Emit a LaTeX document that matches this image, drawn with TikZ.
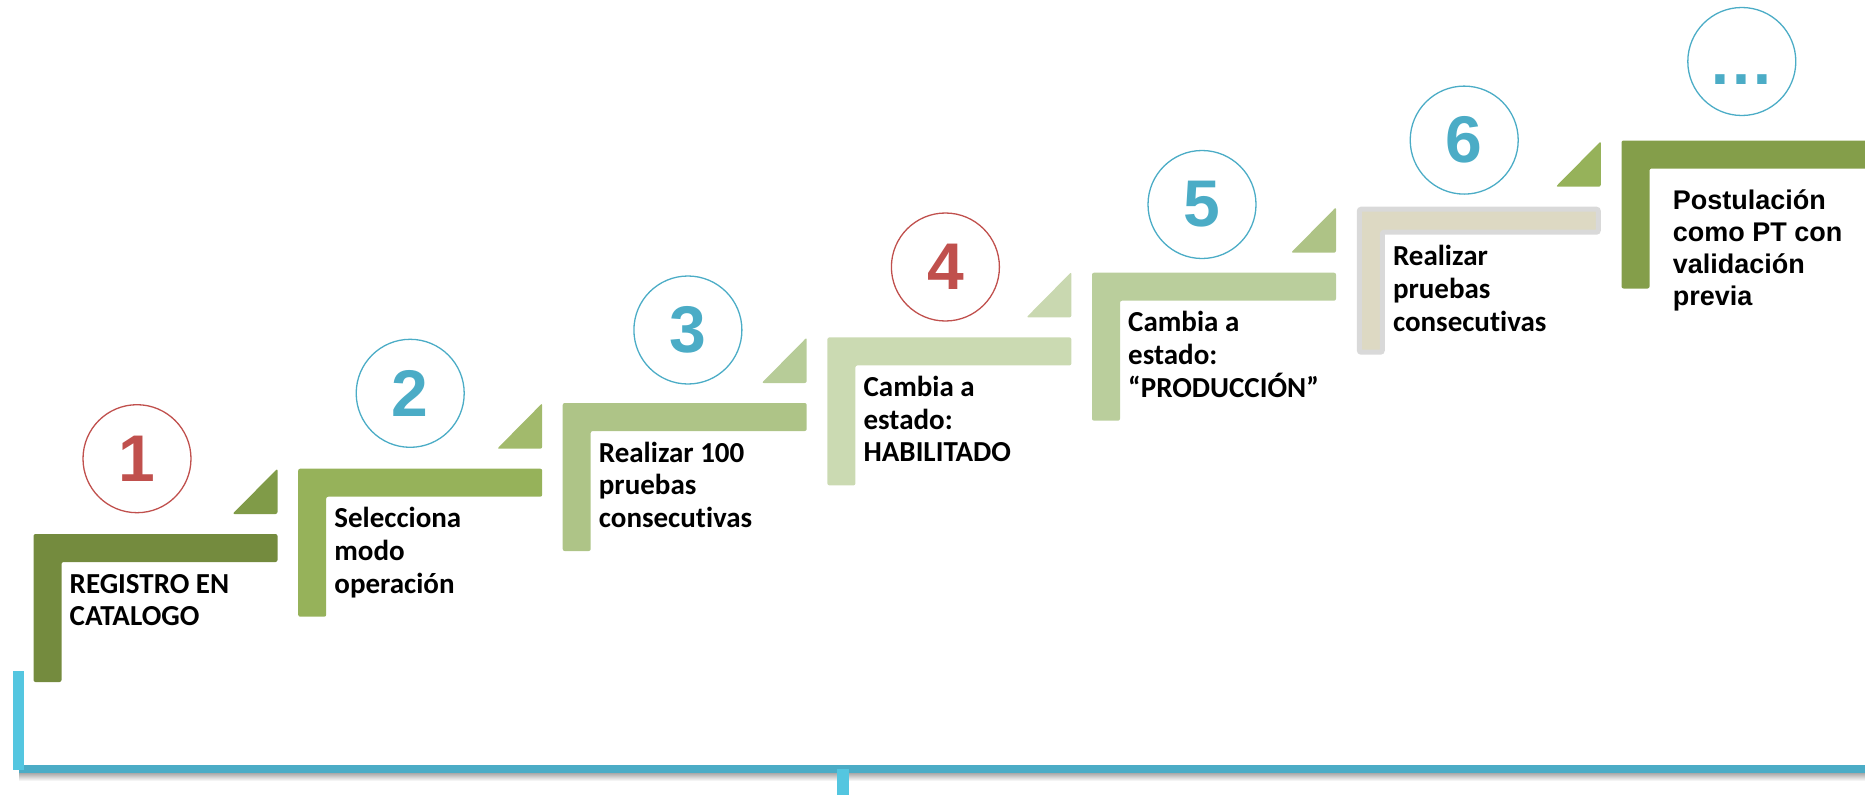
\documentclass[tikz,border=0pt]{standalone}
\usepackage{fontspec}
\setmainfont[Ligatures=NoCommon]{Carlito}
\newfontfamily\arialfont{Liberation Sans}
\definecolor{stepone}{RGB}{116,139,62}
\definecolor{steptwo}{RGB}{150,178,90}
\definecolor{stepthree}{RGB}{174,196,135}
\definecolor{stepfour}{RGB}{203,218,178}
\definecolor{stepfive}{RGB}{186,206,156}
\definecolor{stepsix}{RGB}{221,217,195}
\definecolor{stepseven}{RGB}{132,158,74}
\definecolor{trione}{RGB}{128,155,72}
\definecolor{tritwo}{RGB}{162,186,108}
\definecolor{trithree}{RGB}{183,204,152}
\definecolor{trifour}{RGB}{201,216,176}
\definecolor{trifive}{RGB}{174,195,134}
\definecolor{trisix}{RGB}{150,178,90}
\definecolor{edgegray}{RGB}{217,217,217}
\definecolor{numred}{RGB}{192,80,77}
\definecolor{numblue}{RGB}{75,172,198}
\definecolor{axiscyan}{RGB}{84,198,224}

\begin{document}
\begin{tikzpicture}[x=1pt,y=-1pt,
  numcirc/.style={circle,draw,line width=1.3pt,minimum size=108pt,inner sep=0pt,
    font=\arialfont\bfseries\fontsize{66}{66}\selectfont},
  steptext/.style={anchor=base west,align=left,inner sep=0pt,
    font=\bfseries\fontsize{29}{32.7}\selectfont}]
\useasboundingbox (0,0) rectangle (1865,795);
% escalones
\fill[stepone,rounded corners=2pt] (33.5,534) -- (277.5,534) -- (277.5,562) -- (61.5,562) -- (61.5,682) -- (33.5,682) -- cycle;
\fill[steptwo,rounded corners=2pt] (298.2,468.7) -- (542.2,468.7) -- (542.2,496.7) -- (326.2,496.7) -- (326.2,616.7) -- (298.2,616.7) -- cycle;
\fill[stepthree,rounded corners=2pt] (562.7,403) -- (806.7,403) -- (806.7,431) -- (590.7,431) -- (590.7,551) -- (562.7,551) -- cycle;
\fill[stepfour,rounded corners=2pt] (827.4,337.4) -- (1071.4,337.4) -- (1071.4,365.4) -- (855.4,365.4) -- (855.4,485.4) -- (827.4,485.4) -- cycle;
\fill[stepfive,rounded corners=2pt] (1092,272.7) -- (1336,272.7) -- (1336,300.7) -- (1120,300.7) -- (1120,420.7) -- (1092,420.7) -- cycle;
\filldraw[fill=stepsix,draw=edgegray,line width=5pt,rounded corners=2pt] (1359.3,209.2) -- (1598.3,209.2) -- (1598.3,232.2) -- (1382.3,232.2) -- (1382.3,352.2) -- (1359.3,352.2) -- cycle;
\fill[stepseven,rounded corners=2pt] (1621.5,140.5) -- (1870,140.5) -- (1870,168.5) -- (1649.5,168.5) -- (1649.5,288.5) -- (1621.5,288.5) -- cycle;
% triangulos
\fill[trione,rounded corners=2pt] (232.5,514) -- (277.5,514) -- (277.5,468.5) -- cycle;
\fill[tritwo,rounded corners=2pt] (497.2,448.7) -- (542.2,448.7) -- (542.2,403.2) -- cycle;
\fill[trithree,rounded corners=2pt] (761.7,383) -- (806.7,383) -- (806.7,337.5) -- cycle;
\fill[trifour,rounded corners=2pt] (1026.4,317.4) -- (1071.4,317.4) -- (1071.4,271.9) -- cycle;
\fill[trifive,rounded corners=2pt] (1291,252.7) -- (1336,252.7) -- (1336,207.2) -- cycle;
\fill[trisix,rounded corners=2pt] (1555.8,186.7) -- (1600.8,186.7) -- (1600.8,141.2) -- cycle;
% numeros
\node[numcirc,draw=numred,text=numred] (n1) at (137,458.7) {1};
\node[numcirc,draw=numblue,text=numblue] (n2) at (410.2,393.3) {2};
\node[numcirc,draw=numblue,text=numblue] (n3) at (687.9,330) {3};
\node[numcirc,draw=numred,text=numred] (n4) at (945.4,267) {4};
\node[numcirc,draw=numblue,text=numblue] (n5) at (1202,204.5) {5};
\node[numcirc,draw=numblue,text=numblue] (n6) at (1464.2,140.1) {6};
\node[numcirc,draw=numblue,text=numblue] (n7) at (1741.8,61.5) {\vphantom{1}…};
% textos (base = ultima linea)
\node[steptext] (t1) at (69.5,625.7) {REGISTRO EN\\CATALOGO};
\node[steptext] (t2) at (334.2,593.1) {Selecciona\\modo\\operación};
\node[steptext] (t3) at (598.7,527.4) {Realizar 100\\pruebas\\consecutivas};
\node[steptext] (t4) at (863.4,461.8) {Cambia a\\estado:\\HABILITADO};
\node[steptext] (t5) at (1128,397.1) {Cambia a\\estado:\\“PRODUCCIÓN”};
\node[steptext] (t6) at (1392.8,331.1) {Realizar\\pruebas\\consecutivas};
\node[steptext,font=\arialfont\bfseries\fontsize{27}{32}\selectfont] (t7) at (1672.7,305.3) {Postulación\\como PT con\\validación\\previa};
% eje
\shade[top color=black!35,bottom color=white] (19,772.7) rectangle (1865,781);
\fill[numblue] (19,765) rectangle (1865,772.7);
\fill[axiscyan] (13,671) rectangle (24,770);
\fill[axiscyan] (837,769) rectangle (849,795);
\end{tikzpicture}
\end{document}
